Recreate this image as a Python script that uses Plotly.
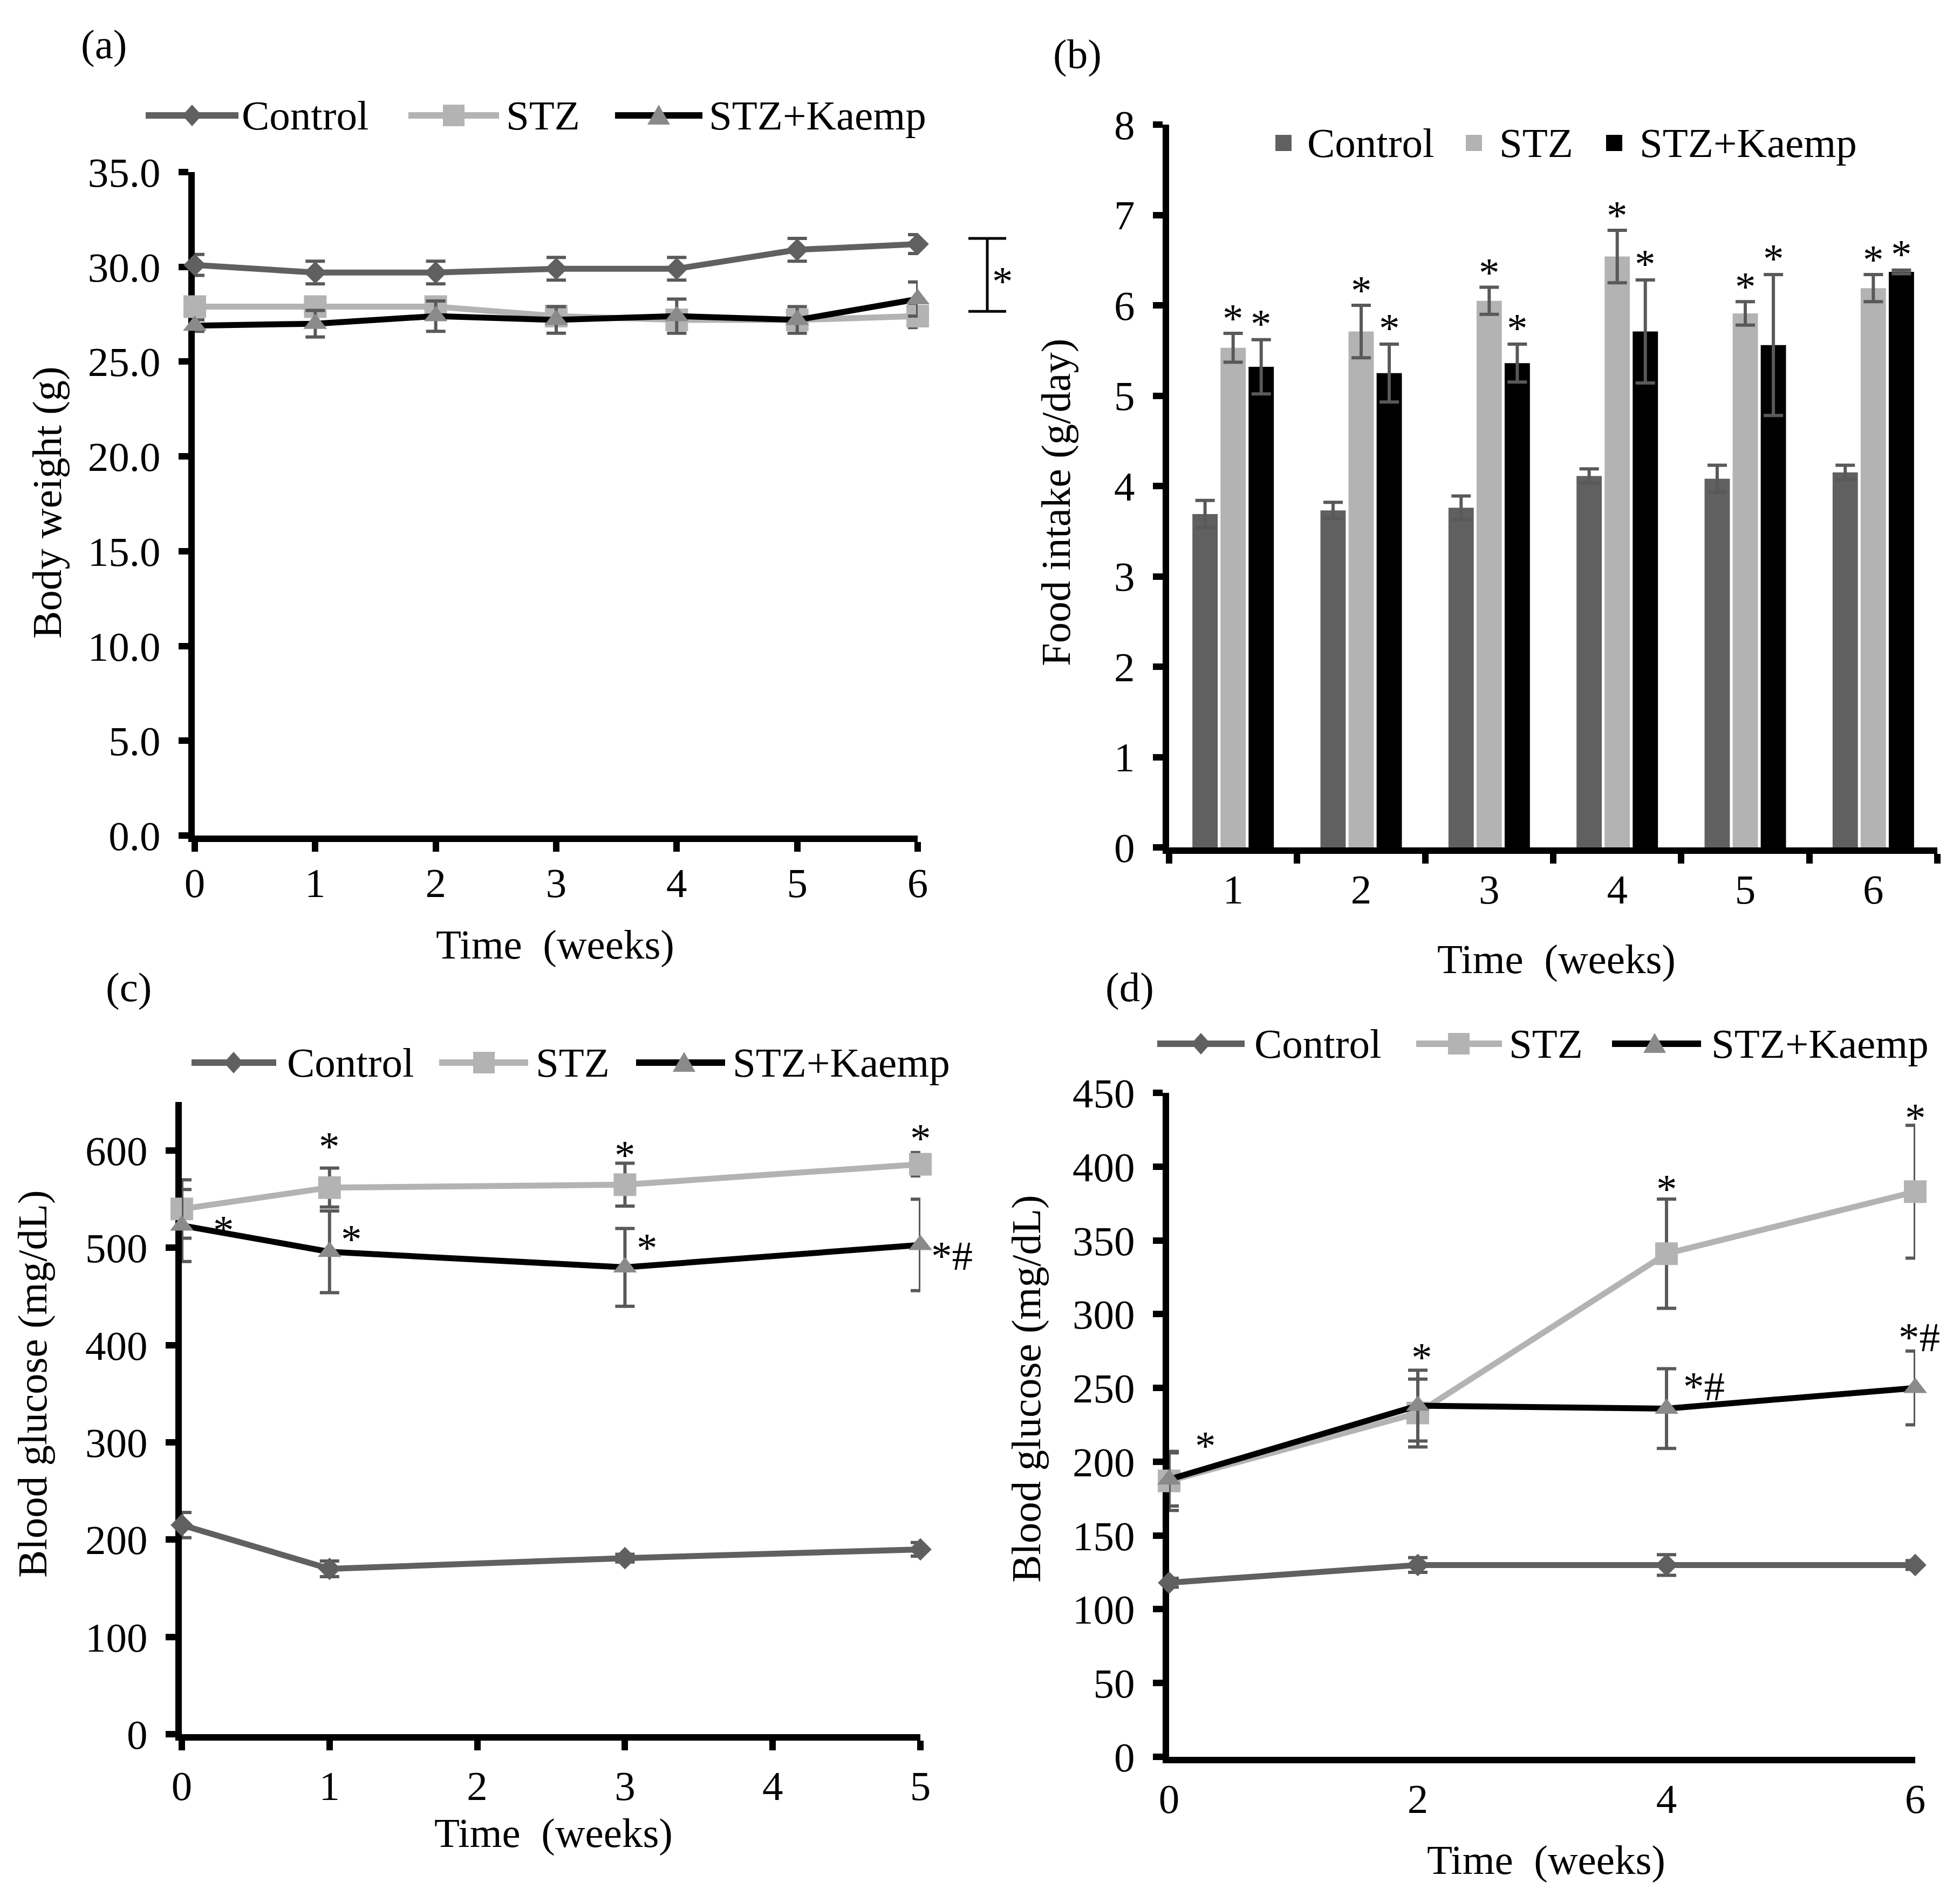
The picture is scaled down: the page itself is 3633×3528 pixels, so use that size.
import plotly.graph_objects as go

W, H = 3633, 3528
FONT = "Liberation Serif"
FS = 77

C_CTRL = "#606060"
C_STZ = "#b3b3b3"
C_KLINE = "#000000"
C_KMK = "#8a8a8a"
C_ERR = "#595959"

# ---------------- data ----------------
# (a) body weight
weeks_a = [0, 1, 2, 3, 4, 5, 6]
bw_control = [30.1, 29.7, 29.7, 29.9, 29.9, 30.9, 31.2]
bw_control_err = [0.55, 0.6, 0.6, 0.6, 0.6, 0.6, 0.5]
bw_stz = [27.9, 27.9, 27.9, 27.4, 27.2, 27.2, 27.4]
bw_stz_err = [0.3, 0.3, 0.3, 0.4, 0.4, 0.4, 0.6]
bw_kaemp = [26.9, 27.0, 27.4, 27.2, 27.4, 27.2, 28.3]
bw_kaemp_err = [0.3, 0.7, 0.8, 0.7, 0.9, 0.7, 0.9]

# (b) food intake
weeks_b = ["1", "2", "3", "4", "5", "6"]
food_control = [3.69, 3.73, 3.76, 4.11, 4.08, 4.15]
food_control_err = [0.15, 0.09, 0.13, 0.08, 0.15, 0.08]
food_stz = [5.53, 5.71, 6.05, 6.54, 5.91, 6.19]
food_stz_err = [0.16, 0.29, 0.15, 0.29, 0.13, 0.15]
food_kaemp = [5.32, 5.25, 5.36, 5.71, 5.56, 6.37]
food_kaemp_err = [0.30, 0.32, 0.21, 0.57, 0.78, 0.02]

# (c) blood glucose
weeks_c = [0, 1, 3, 5]
c_control = [215, 170, 181, 190]
c_control_err = [13, 8, 4, 7]
c_stz = [540, 562, 565, 586]
c_stz_err = [30, 20, 22, 12]
c_kaemp = [523, 496, 480, 503]
c_kaemp_err = [37, 42, 40, 47]

# (d) blood glucose
weeks_d = [0, 2, 4, 6]
d_control = [118, 130, 130, 130]
d_control_err = [3, 5, 7, 3]
d_stz = [187, 233, 341, 383]
d_stz_err = [20, 23, 37, 45]
d_kaemp = [188, 238, 236, 250]
d_kaemp_err = [18, 24, 27, 25]

series_names = ["Control", "STZ", "STZ+Kaemp"]

# ---------------- helpers ----------------
def fx(x):
    return x / W


def fy(y):
    return 1 - y / H


def err(arr):
    return dict(type="data", array=arr, color=C_ERR, thickness=6, width=18)


def line_tr(x, y, e, name, xa, ya, kind):
    if kind == 0:
        mk = dict(symbol="diamond", size=32, color=C_CTRL)
        ln = dict(color=C_CTRL, width=11)
    elif kind == 1:
        mk = dict(symbol="square", size=42, color=C_STZ)
        ln = dict(color=C_STZ, width=11)
    else:
        mk = dict(symbol="triangle-up", size=38, color=C_KMK)
        ln = dict(color=C_KLINE, width=11)
    return go.Scatter(x=x, y=y, error_y=err(e), name=name, mode="lines+markers",
                      marker=mk, line=ln, cliponaxis=False, showlegend=False,
                      xaxis=xa, yaxis=ya)


fig = go.Figure()

# (a)
fig.add_trace(line_tr(weeks_a, bw_control, bw_control_err, series_names[0], "x", "y", 0))
fig.add_trace(line_tr(weeks_a, bw_stz, bw_stz_err, series_names[1], "x", "y", 1))
fig.add_trace(line_tr(weeks_a, bw_kaemp, bw_kaemp_err, series_names[2], "x", "y", 2))

# (b)
for vals, e, nm, col in [(food_control, food_control_err, series_names[0], C_CTRL),
                         (food_stz, food_stz_err, series_names[1], C_STZ),
                         (food_kaemp, food_kaemp_err, series_names[2], "#000000")]:
    fig.add_trace(go.Bar(x=weeks_b, y=vals, name=nm, marker=dict(color=col, line=dict(width=0)),
                         error_y=err(e), showlegend=False, xaxis="x2", yaxis="y2"))

# (c)
fig.add_trace(line_tr(weeks_c, c_control, c_control_err, series_names[0], "x3", "y3", 0))
fig.add_trace(line_tr(weeks_c, c_stz, c_stz_err, series_names[1], "x3", "y3", 1))
fig.add_trace(line_tr(weeks_c, c_kaemp, c_kaemp_err, series_names[2], "x3", "y3", 2))

# (d)
fig.add_trace(line_tr(weeks_d, d_control, d_control_err, series_names[0], "x4", "y4", 0))
fig.add_trace(line_tr(weeks_d, d_stz, d_stz_err, series_names[1], "x4", "y4", 1))
fig.add_trace(line_tr(weeks_d, d_kaemp, d_kaemp_err, series_names[2], "x4", "y4", 2))

# ---------------- axes ----------------
tickfont = dict(family=FONT, size=FS, color="black")


def ax(**kw):
    base = dict(showline=True, linecolor="black", linewidth=12, ticks="outside",
                ticklen=18, tickwidth=12, tickcolor="black", showgrid=False,
                zeroline=False, tickfont=tickfont, layer="below traces", automargin=False)
    base.update(kw)
    return base


YSO = 18  # extra gap between y tick labels and the axis

layout = dict(
    width=W, height=H, autosize=False,
    margin=dict(l=0, r=0, t=0, b=0, pad=0, autoexpand=False),
    showlegend=False,
    paper_bgcolor="white", plot_bgcolor="white",
    font=dict(family=FONT, size=FS, color="black"),
    barmode="group", bargap=0.342, bargroupgap=0.1,
    xaxis=ax(domain=[fx(361), fx(1701)], range=[0, 6], tickvals=weeks_a, anchor="y",
             ticklabelstandoff=-8),
    yaxis=ax(domain=[fy(1549), fy(319)], range=[0, 35], dtick=5, tickformat=".1f",
             anchor="x", ticklabelstandoff=YSO),
    xaxis2=ax(domain=[fx(2167), fx(3591)], type="category", range=[-0.5, 5.5],
              tickson="boundaries", anchor="y2"),
    yaxis2=ax(domain=[fy(1571), fy(231)], range=[0, 8], dtick=1, anchor="x2",
              ticklabelstandoff=YSO),
    xaxis3=ax(domain=[fx(337), fx(1706)], range=[0, 5], tickvals=[0, 1, 2, 3, 4, 5], anchor="y3"),
    yaxis3=ax(domain=[fy(3215), fy(2043)], range=[0, 650], tickvals=[0, 100, 200, 300, 400, 500, 600],
              anchor="x3", ticklabelstandoff=YSO),
    xaxis4=ax(domain=[fx(2167), fx(3550)], range=[0, 6], tickvals=[0, 2, 4, 6], ticks="", anchor="y4"),
    yaxis4=ax(domain=[fy(3257), fy(2026)], range=[0, 450], dtick=50, anchor="x4",
              ticklabelstandoff=YSO),
)
fig.update_layout(**layout)

shapes = []
annots = []


def text(x, y, s, xanchor="center", angle=0, size=FS):
    annots.append(dict(x=fx(x), y=fy(y), xref="paper", yref="paper", text=s, showarrow=False,
                       xanchor=xanchor, yanchor="middle", textangle=angle,
                       font=dict(family=FONT, size=size, color="black")))


def lg_line(x0, x1, y, color):
    shapes.append(dict(type="line", xref="paper", yref="paper", x0=fx(x0), x1=fx(x1),
                       y0=fy(y), y1=fy(y), line=dict(color=color, width=12)))


def lg_diamond(cx, cy):
    p = f"M{fx(cx-18)},{fy(cy)} L{fx(cx)},{fy(cy-20)} L{fx(cx+18)},{fy(cy)} L{fx(cx)},{fy(cy+20)} Z"
    shapes.append(dict(type="path", xref="paper", yref="paper", path=p,
                       fillcolor=C_CTRL, line=dict(width=0)))


def lg_square(cx, cy, color, h=20):
    shapes.append(dict(type="rect", xref="paper", yref="paper", x0=fx(cx-h), x1=fx(cx+h),
                       y0=fy(cy+h), y1=fy(cy-h), fillcolor=color, line=dict(width=0)))


def lg_tri(cx, cy):
    p = f"M{fx(cx-21)},{fy(cy+17)} L{fx(cx)},{fy(cy-20)} L{fx(cx+21)},{fy(cy+17)} Z"
    shapes.append(dict(type="path", xref="paper", yref="paper", path=p,
                       fillcolor=C_KMK, line=dict(width=0)))


def line_legend(y, items):
    (c0, c1, cm, ct), (s0, s1, sm, st), (k0, k1, km, kt) = items
    lg_line(c0, c1, y, C_CTRL); lg_diamond(cm, y); text(ct, y, series_names[0], "left")
    lg_line(s0, s1, y, C_STZ); lg_square(sm, y, C_STZ); text(st, y, series_names[1], "left")
    lg_line(k0, k1, y, C_KLINE); lg_tri(km, y); text(kt, y, series_names[2], "left")


line_legend(214, [(270, 442, 356, 446), (757, 925, 841, 936), (1140, 1302, 1221, 1312)])
line_legend(1970, [(355, 512, 433, 530), (814, 979, 897, 991), (1179, 1344, 1268, 1356)])
line_legend(1935, [(2145, 2307, 2226, 2323), (2625, 2784, 2704, 2795), (2988, 3153, 3067, 3170)])

# bar legend
for cx, tx, col, nm in [(2379, 2421, C_CTRL, series_names[0]), (2732, 2777, C_STZ, series_names[1]),
                        (2992, 3037, "#000000", series_names[2])]:
    lg_square(cx, 265, col, h=15)
    text(tx, 265, nm, "left")

# panel labels
text(192, 82, "(a)")
text(1997, 100, "(b)")
text(238, 1830, "(c)")
text(2094, 1830, "(d)")

# axis titles
XT = "Time\u00a0 (weeks)"
text(1029, 1751, XT)
text(2885, 1778, XT)
text(1026, 3398, XT)
text(2866, 3448, XT)
text(87, 932, "Body weight (g)", angle=-90)
text(1957, 932, "Food intake (g/day)", angle=-90)
text(60, 2566, "Blood glucose (mg/dL)", angle=-90)
text(1902, 2574, "Blood glucose (mg/dL)", angle=-90)

# bracket in (a)
shapes.append(dict(type="line", xref="paper", yref="y", x0=fx(1830), x1=fx(1830), y0=27.65, y1=31.5,
                   line=dict(color="black", width=5)))
for yv in (27.65, 31.5):
    shapes.append(dict(type="line", xref="paper", yref="y", x0=fx(1795), x1=fx(1865), y0=yv, y1=yv,
                       line=dict(color="black", width=5)))
annots.append(dict(x=fx(1858), y=29.6, xref="paper", yref="y", text="*", showarrow=False,
                   xanchor="center", yanchor="middle", yshift=-12,
                   font=dict(family=FONT, size=FS, color="black")))

GLYPH = 12  # asterisk sits above the text box centre


def star(xv, yv, xa, ya, s="*", dx=0, dy=0):
    annots.append(dict(x=xv, y=yv, xref=xa, yref=ya, text=s, showarrow=False,
                       xanchor="center", yanchor="middle", xshift=dx, yshift=dy - GLYPH,
                       font=dict(family=FONT, size=FS, color="black")))


# (b) stars above STZ and STZ+Kaemp bars (category index used as x)
for i in range(len(weeks_b)):
    star(i, food_stz[i] + food_stz_err[i], "x2", "y2", dy=40)
    star(i, food_kaemp[i] + food_kaemp_err[i], "x2", "y2", dx=52, dy=42)

# (c) stars
for i, dy in [(1, 53), (2, 28), (3, 39)]:
    star(weeks_c[i], c_stz[i] + c_stz_err[i], "x3", "y3", dy=dy)
for i, s, dx, dy in [(0, "*", 77, 4), (1, "*", 41, 36), (2, "*", 41, 49), (3, "*#", 58, -8)]:
    star(weeks_c[i], c_kaemp[i], "x3", "y3", s=s, dx=dx, dy=dy)

# (d) stars
star(weeks_d[0], d_kaemp[0], "x4", "y4", dx=67, dy=75)
star(weeks_d[1], d_kaemp[1] + d_kaemp_err[1], "x4", "y4", dx=7, dy=36)
star(weeks_d[2], d_stz[2] + d_stz_err[2], "x4", "y4", dy=31)
star(weeks_d[3], d_stz[3] + d_stz_err[3], "x4", "y4", dy=26)
star(weeks_d[2], d_kaemp[2], "x4", "y4", s="*#", dx=69, dy=53)
star(weeks_d[3], d_kaemp[3] + d_kaemp_err[3], "x4", "y4", s="*#", dx=7, dy=38)

fig.update_layout(shapes=shapes, annotations=annots)

POST = (
    "document.body.style.margin='0';document.body.style.padding='0';"
    "document.documentElement.style.overflow='hidden';"
    "var gd=document.querySelector('.plotly-graph-div');"
    "gd.style.position='fixed';gd.style.left='0px';gd.style.top='0px';"
    "window.scrollTo(0,0);"
)

fig.write_html("out.html", config={"displayModeBar": False}, post_script=POST)
